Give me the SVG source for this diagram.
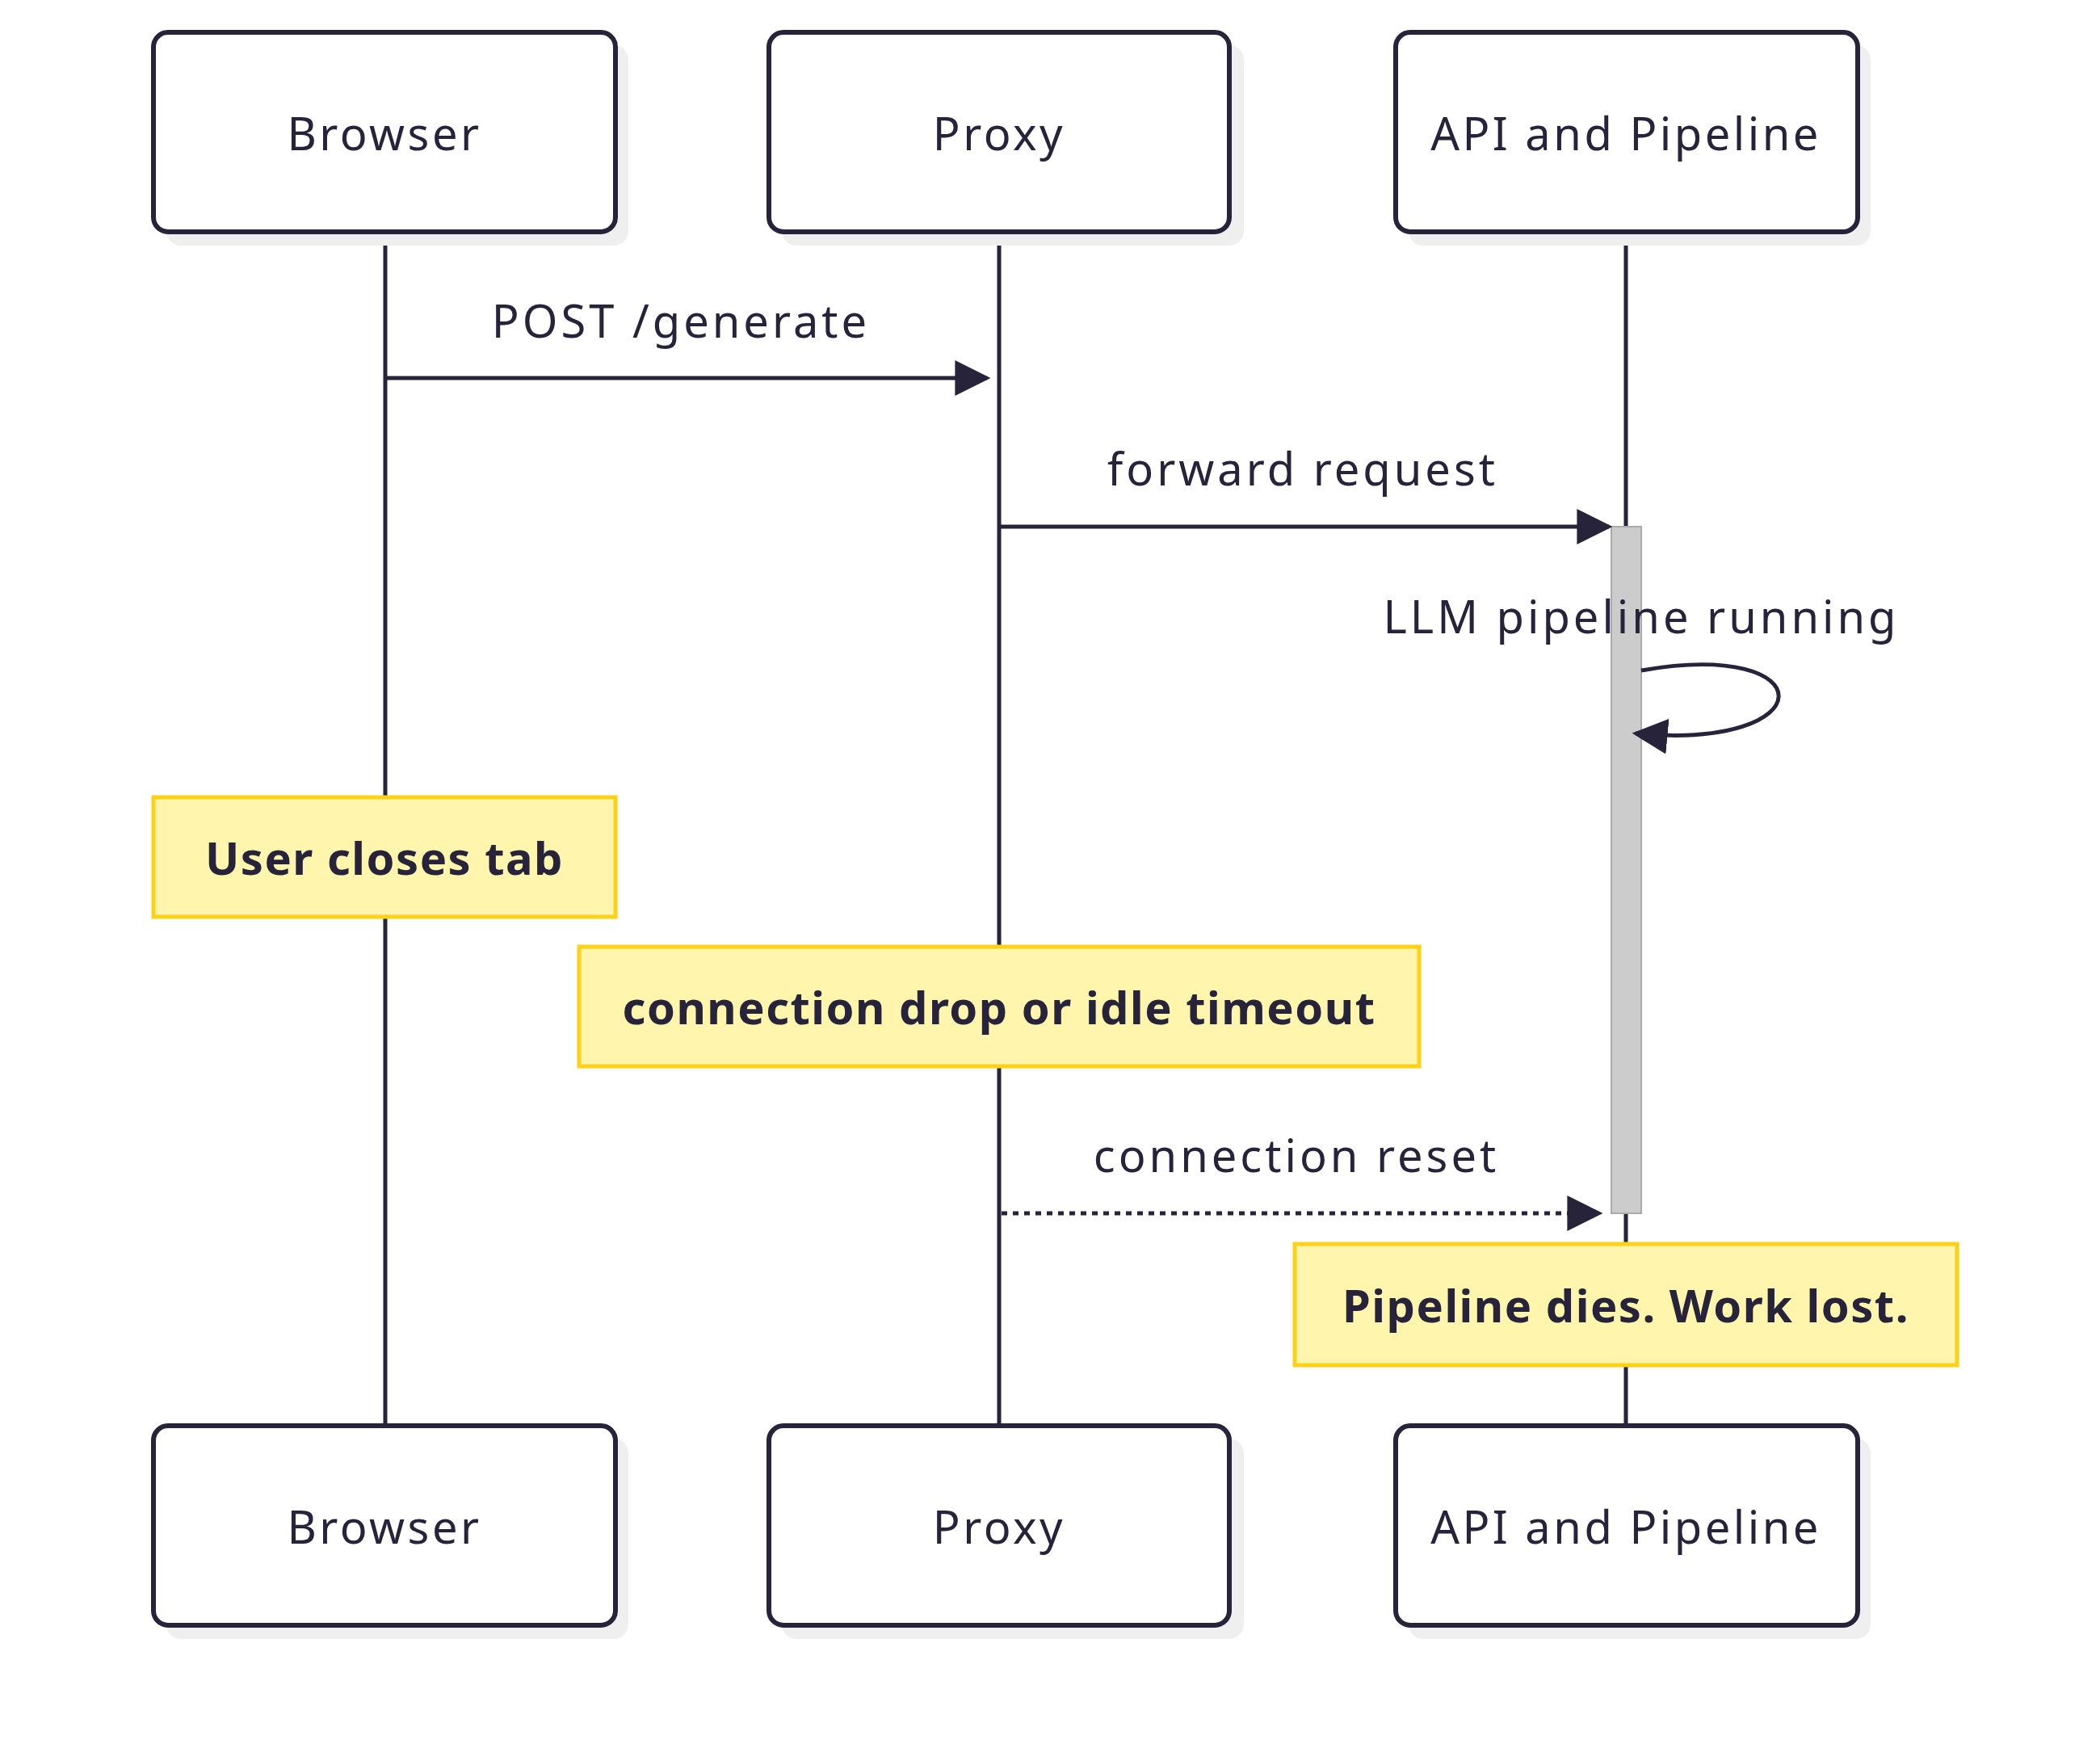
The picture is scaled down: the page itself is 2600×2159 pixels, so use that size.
<svg xmlns="http://www.w3.org/2000/svg" width="2600" height="2159" viewBox="0 0 2600 2159">
<style>
.actor rect.b{fill:#fff;stroke:#26233a;stroke-width:6}
.shadow{fill:#efefef}
text{font-family:"Noto Sans","DejaVu Sans",sans-serif;fill:#26233a}
.at{font-size:56px;letter-spacing:3.5px;text-anchor:middle;dominant-baseline:central}
.ml{font-size:56px;letter-spacing:4px;text-anchor:middle}
.note rect{fill:#fff5ad;stroke:#fcd116;stroke-width:5}
.note text{font-size:56px;letter-spacing:1.5px;font-weight:bold;text-anchor:middle;dominant-baseline:central}
.life{stroke:#26233a;stroke-width:5}
.msg{stroke:#26233a;stroke-width:5;fill:none}
</style>
<defs>
<marker id="ah2" viewBox="0 0 10 10" refX="9" refY="5" markerWidth="44" markerHeight="44" markerUnits="userSpaceOnUse" orient="auto"><path d="M0,0 L10,5 L0,10 z" fill="#26233a"/></marker>
</defs>
<g id="lifelines">
<line class="life" x1="477" y1="287" x2="477" y2="1765"/>
<line class="life" x1="1237" y1="287" x2="1237" y2="1765"/>
<line class="life" x1="2013" y1="287" x2="2013" y2="1765"/>
</g>
<g id="activation"><rect x="1995" y="652" width="37" height="850" fill="#cccccc" stroke="#aaaaaa" stroke-width="2"/></g>
<g id="actor-browser-top" class="actor"><rect class="shadow" x="206" y="56" width="572" height="248" rx="18"/><rect class="b" x="190" y="40" width="572" height="247" rx="18"/><text class="at" x="476" y="164">Browser</text></g>
<g id="actor-proxy-top" class="actor"><rect class="shadow" x="968" y="56" width="572" height="248" rx="18"/><rect class="b" x="952" y="40" width="570" height="247" rx="18"/><text class="at" x="1237" y="164">Proxy</text></g>
<g id="actor-api-top" class="actor"><rect class="shadow" x="1744" y="56" width="572" height="248" rx="18"/><rect class="b" x="1728" y="40" width="572" height="247" rx="18"/><text class="at" x="2013" y="164">API and Pipeline</text></g>
<g id="actor-browser-bottom" class="actor"><rect class="shadow" x="206" y="1781" width="572" height="248" rx="18"/><rect class="b" x="190" y="1765" width="572" height="247" rx="18"/><text class="at" x="476" y="1889">Browser</text></g>
<g id="actor-proxy-bottom" class="actor"><rect class="shadow" x="968" y="1781" width="572" height="248" rx="18"/><rect class="b" x="952" y="1765" width="570" height="247" rx="18"/><text class="at" x="1237" y="1889">Proxy</text></g>
<g id="actor-api-bottom" class="actor"><rect class="shadow" x="1744" y="1781" width="572" height="248" rx="18"/><rect class="b" x="1728" y="1765" width="572" height="247" rx="18"/><text class="at" x="2013" y="1889">API and Pipeline</text></g>
<g id="connectors">
<line class="msg" x1="477" y1="468" x2="1222" y2="468" marker-end="url(#ah2)"/>
<line class="msg" x1="1237" y1="652" x2="1992" y2="652" marker-end="url(#ah2)"/>
<path class="msg" d="M2032,830 C2260,790 2260,930 2025,908" marker-end="url(#ah2)"/>
<line class="msg" x1="1240" y1="1502" x2="1980" y2="1502" stroke-width="6" stroke-dasharray="7,7" marker-end="url(#ah2)"/>
</g>
<g id="labels">
<text class="ml" x="843" y="418">POST /generate</text>
<text class="ml" x="1613" y="601">forward request</text>
<text class="ml" x="2032" y="784">LLM pipeline running</text>
<text class="ml" x="1605" y="1451">connection reset</text>
</g>
<g id="note-user" class="note"><rect x="190" y="987" width="572" height="148"/><text x="476" y="1061">User closes tab</text></g>
<g id="note-timeout" class="note"><rect x="717" y="1172" width="1040" height="148"/><text x="1237" y="1246">connection drop or idle timeout</text></g>
<g id="note-dies" class="note"><rect x="1603" y="1540" width="820" height="150"/><text x="2013" y="1615">Pipeline dies. Work lost.</text></g>
</svg>
